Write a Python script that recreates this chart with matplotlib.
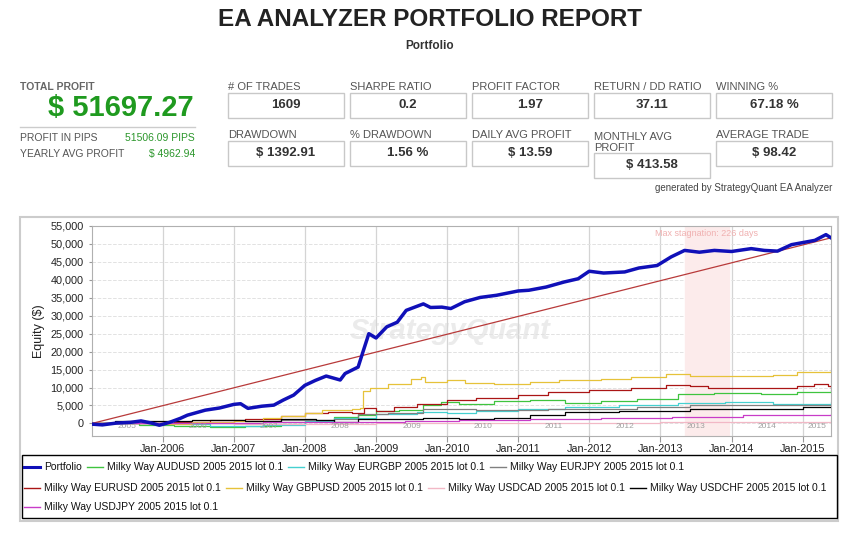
import matplotlib
matplotlib.use("Agg")
import matplotlib.pyplot as plt
import matplotlib.dates as mdates
import matplotlib.transforms as mtransforms
from matplotlib.lines import Line2D
from matplotlib.patches import Rectangle
from matplotlib.ticker import FuncFormatter
import pandas as pd

W, H = 860, 534
plt.rcParams["font.family"] = ["Liberation Sans", "DejaVu Sans"]

# ---- header statistics ----
total_profit = "$ 51697.27"
side_labels = ["PROFIT IN PIPS", "YEARLY AVG PROFIT"]
side_values = ["51506.09 PIPS", "$ 4962.94"]
stat_labels = [
    ["# OF TRADES", "SHARPE RATIO", "PROFIT FACTOR", "RETURN / DD RATIO", "WINNING %"],
    ["DRAWDOWN", "% DRAWDOWN", "DAILY AVG PROFIT", "MONTHLY AVG\nPROFIT", "AVERAGE TRADE"],
]
stat_values = [
    ["1609", "0.2", "1.97", "37.11", "67.18 %"],
    ["$ 1392.91", "1.56 %", "$ 13.59", "$ 413.58", "$ 98.42"],
]

# ---- equity curves ----
portfolio_dates = [
    "2005-01-03", "2005-02-25", "2005-05-08", "2005-07-20", "2005-09-12", "2005-11-05",
    "2005-12-15", "2006-02-05", "2006-04-01", "2006-05-08", "2006-08-08", "2006-10-20",
    "2007-01-01", "2007-02-05", "2007-03-15", "2007-05-25", "2007-07-26", "2007-09-12",
    "2007-11-05", "2008-01-01", "2008-02-25", "2008-04-20", "2008-07-01", "2008-07-26",
    "2008-10-01", "2008-10-28", "2008-11-25", "2009-01-01", "2009-02-25", "2009-04-20",
    "2009-06-05", "2009-09-01", "2009-10-08", "2009-12-05", "2010-01-20", "2010-04-01",
    "2010-06-20", "2010-09-12", "2011-01-01", "2011-02-25", "2011-05-25", "2011-08-25",
    "2011-11-05", "2012-01-01", "2012-03-15", "2012-07-01", "2012-09-12", "2012-12-15",
    "2013-02-25", "2013-05-05", "2013-07-20", "2013-10-05", "2014-01-01", "2014-04-12",
    "2014-06-18", "2014-08-25", "2014-11-05", "2015-03-05", "2015-05-01", "2015-05-27",
]
portfolio_values = [
    -200, -400, 100, 300, 700, 100,
    -500, 300, 1400, 2300, 3700, 4300,
    5300, 5500, 4200, 4800, 5100, 6500,
    7900, 10600, 12000, 13200, 12100, 13900,
    15700, 20300, 25000, 23800, 26900, 28200,
    31500, 33300, 32300, 32400, 32000, 33900,
    35100, 35700, 36900, 37100, 38000, 39400,
    40300, 42400, 41900, 42200, 43300, 44000,
    46400, 48200, 47700, 48200, 47900, 48700,
    48200, 48000, 49800, 51000, 52600, 51700,
]

audusd_dates = ["2005-01-03", "2005-09-01", "2006-03-01", "2006-09-01", "2007-03-01", "2007-09-01",
                "2008-01-01", "2008-06-01", "2008-10-01", "2009-01-01", "2009-05-01", "2009-09-01",
                "2009-12-01", "2010-03-01", "2010-09-01", "2011-03-01", "2011-09-01", "2012-03-01",
                "2012-09-01", "2013-04-01", "2013-10-01", "2014-06-01", "2014-12-01", "2015-05-27"]
audusd_values = [0, -300, -700, -900, -700, -200, 700, 1800, 2300, 3400, 3800, 5000,
                 6000, 5500, 6200, 6500, 5600, 6300, 6900, 8300, 8500, 8300, 8800, 9300]

eurgbp_dates = ["2005-01-03", "2006-01-01", "2006-09-01", "2007-06-01", "2008-01-01", "2008-06-01",
                "2009-01-01", "2009-08-01", "2010-01-01", "2010-06-01", "2011-01-01", "2011-09-01",
                "2012-06-01", "2013-04-01", "2013-12-01", "2014-08-01", "2015-05-27"]
eurgbp_values = [0, -200, -600, -500, 600, 1500, 2500, 3300, 2800, 3400, 4100, 4500,
                 5100, 5700, 6000, 5500, 6000]

eurjpy_dates = ["2005-01-03", "2006-01-01", "2007-01-01", "2007-09-01", "2008-06-01", "2008-10-01",
                "2009-03-01", "2009-09-01", "2010-06-01", "2011-06-01", "2012-09-01", "2013-06-01",
                "2014-06-01", "2015-05-27"]
eurjpy_values = [0, 200, 600, 900, 1200, 2500, 3000, 3900, 3700, 3900, 4600, 5000, 5000, 4800]

eurusd_dates = ["2005-01-03", "2005-10-01", "2006-03-01", "2006-09-01", "2007-03-01", "2007-09-01",
                "2008-01-01", "2008-05-01", "2008-09-01", "2008-11-01", "2009-01-01", "2009-04-01",
                "2009-08-01", "2010-01-01", "2010-06-01", "2011-01-01", "2011-06-01", "2012-01-01",
                "2012-08-01", "2013-02-01", "2013-06-01", "2013-09-01", "2014-06-01", "2014-12-01",
                "2015-03-01", "2015-05-10", "2015-05-27"]
eurusd_values = [0, 200, 500, 900, 1200, 2000, 2900, 3100, 3000, 4200, 3600, 4500,
                 5500, 6500, 7200, 7900, 8700, 9300, 10000, 10700, 10300, 9800, 10000, 10300,
                 10900, 10300, 10000]

gbpusd_dates = ["2005-01-03", "2005-06-01", "2006-01-01", "2006-06-01", "2007-01-01", "2007-06-01",
                "2007-09-01", "2008-01-01", "2008-04-01", "2008-09-01", "2008-10-10", "2008-10-25",
                "2008-12-01", "2009-03-01", "2009-07-01", "2009-08-20", "2009-09-10", "2010-01-01",
                "2010-04-01", "2010-09-01", "2011-03-01", "2011-08-01", "2012-03-01", "2012-08-01",
                "2013-02-01", "2013-06-01", "2014-03-01", "2014-08-01", "2014-12-01", "2015-05-27"]
gbpusd_values = [0, 100, -100, 300, 700, 1500, 2200, 3000, 3700, 4000, 4300, 9000,
                 10000, 11000, 12500, 12900, 11500, 12000, 11200, 11000, 11500, 12200, 12500, 13000,
                 13700, 13300, 13300, 13500, 14300, 15000]

usdcad_dates = ["2005-01-03", "2007-01-01", "2009-01-01", "2011-01-01", "2013-01-01", "2015-05-27"]
usdcad_values = [0, -200, 0, 200, 400, 1000]

usdchf_dates = ["2005-01-03", "2005-05-01", "2006-06-01", "2007-03-01", "2007-09-01", "2008-03-01",
                "2008-06-01", "2008-10-01", "2009-03-01", "2009-09-01", "2010-03-01", "2010-09-01",
                "2011-03-01", "2011-09-01", "2012-06-01", "2013-06-01", "2014-06-01", "2015-01-01",
                "2015-05-27"]
usdchf_values = [0, 700, 900, 800, 1200, 1000, 500, 1200, 1300, 1500, 1300, 1500,
                 2300, 3200, 3400, 3900, 4100, 4500, 4600]

usdjpy_dates = ["2005-01-03", "2006-01-01", "2007-06-01", "2008-03-01", "2009-06-01", "2010-03-01",
                "2011-03-01", "2012-03-01", "2013-03-01", "2014-03-01", "2015-05-27"]
usdjpy_values = [0, 100, 300, 400, 700, 900, 1100, 1500, 1900, 2300, 2600]

strategies = [
    ("Milky Way AUDUSD 2005 2015 lot 0.1", audusd_dates, audusd_values, "#3fc43f"),
    ("Milky Way EURGBP 2005 2015 lot 0.1", eurgbp_dates, eurgbp_values, "#45d0d0"),
    ("Milky Way EURJPY 2005 2015 lot 0.1", eurjpy_dates, eurjpy_values, "#808080"),
    ("Milky Way EURUSD 2005 2015 lot 0.1", eurusd_dates, eurusd_values, "#aa1515"),
    ("Milky Way GBPUSD 2005 2015 lot 0.1", gbpusd_dates, gbpusd_values, "#e6c23a"),
    ("Milky Way USDCAD 2005 2015 lot 0.1", usdcad_dates, usdcad_values, "#f2b8c6"),
    ("Milky Way USDCHF 2005 2015 lot 0.1", usdchf_dates, usdchf_values, "#000000"),
    ("Milky Way USDJPY 2005 2015 lot 0.1", usdjpy_dates, usdjpy_values, "#c83cc8"),
]

stagnation_start, stagnation_end = "2013-05-05", "2013-12-17"
stagnation_text = "Max stagnation: 226 days"


def fx(x):
    return x / W


def fy(y):
    return 1 - y / H


def main():
    fig = plt.figure(figsize=(W / 100, H / 100), dpi=100)

    # ---- header ----
    fig.text(0.5, fy(19.5), "EA ANALYZER PORTFOLIO REPORT", ha="center", va="center",
             fontsize=17.5, weight="bold", color="#222222")
    fig.text(0.5, fy(46), "Portfolio", ha="center", va="center", fontsize=8.5,
             weight="bold", color="#333333")

    fig.text(fx(20), fy(87), "TOTAL PROFIT", va="center", fontsize=7.5, weight="bold",
             color="#666666")
    fig.text(fx(194), fy(108.5), total_profit, ha="right", va="center", fontsize=21,
             weight="bold", color="#1f9a1f")
    fig.add_artist(Line2D([fx(20), fx(195)], [fy(127), fy(127)], transform=fig.transFigure,
                          color="#cccccc", lw=1))
    for i, (lab, val) in enumerate(zip(side_labels, side_values)):
        y = fy(138 + 16 * i)
        fig.text(fx(20), y, lab, va="center", fontsize=7.5, color="#555555")
        fig.text(fx(195), y, val, ha="right", va="center", fontsize=7.5, color="#2b962b")

    for r, (labels, values) in enumerate(zip(stat_labels, stat_values)):
        for c, (lab, val) in enumerate(zip(labels, values)):
            x0 = 228 + 122 * c
            lab_y = 87 + 48 * r
            box_top = 93 + 48 * r
            if "\n" in lab:
                box_top += 12
                fig.text(fx(x0), fy(lab_y - 3), lab, va="top", fontsize=8, color="#555555",
                         linespacing=1.15)
            else:
                fig.text(fx(x0), fy(lab_y), lab, va="center", fontsize=8, color="#555555")
            fig.add_artist(Rectangle((fx(x0), fy(box_top + 25)), fx(116), 25 / H,
                                     transform=fig.transFigure, fill=False,
                                     edgecolor="#c8c8c8", lw=1))
            fig.text(fx(x0 + 58), fy(box_top + 12.5), val, ha="center", va="center",
                     fontsize=9.5, weight="bold", color="#333333")

    fig.text(fx(832), fy(188), "generated by StrategyQuant EA Analyzer", ha="right",
             va="center", fontsize=7, color="#444444")

    # ---- chart frame ----
    fig.add_artist(Rectangle((fx(20), fy(521)), fx(818), 304 / H, transform=fig.transFigure,
                             fill=False, edgecolor="#cccccc", lw=1.5))

    ax = fig.add_axes([fx(92), fy(436), fx(831 - 92), (436 - 226) / H])

    pdates = pd.to_datetime(portfolio_dates)
    ax.plot(pdates, portfolio_values, color="#1010b8", lw=2.5, zorder=5)
    ax.plot([pdates[0], pdates[-1]], [0, portfolio_values[-1]], color="#b83a3a", lw=0.9,
            zorder=4)
    for name, d, v, color in strategies:
        ax.plot(pd.to_datetime(d), v, color=color, lw=0.9, drawstyle="steps-post", zorder=3)

    ax.axvspan(pd.Timestamp(stagnation_start), pd.Timestamp(stagnation_end),
               color="#fcebeb", zorder=1)
    mid = pd.Timestamp(stagnation_start) + (pd.Timestamp(stagnation_end) - pd.Timestamp(stagnation_start)) / 2
    ax.text(mid, 0.962, stagnation_text, transform=ax.get_xaxis_transform(), ha="center",
            va="center", fontsize=6.5, color="#f0b0b0")

    ax.text(0.485, 0.5, "StrategyQuant", transform=ax.transAxes, ha="center", va="center",
            fontsize=21, weight="bold", style="italic", color="#ebebeb", zorder=0)

    ax.set_xlim(pdates[0], pdates[-1])
    ax.set_ylim(-3500, 55000)
    ax.set_yticks(range(0, 55001, 5000))
    ax.yaxis.set_major_formatter(FuncFormatter(lambda v, p: f"{int(v):,}"))
    ax.xaxis.set_major_locator(mdates.YearLocator())
    ax.xaxis.set_major_formatter(mdates.DateFormatter("Jan-%Y"))
    ax.tick_params(axis="both", labelsize=7.8, colors="#222222")
    ax.tick_params(axis="x", length=4, color="#999999", pad=2)
    ax.tick_params(axis="y", length=2, color="#999999", pad=4)
    ax.set_ylabel("Equity ($)", fontsize=9, color="#222222", labelpad=4)

    ax.grid(axis="x", color="#d4d4d4", lw=0.9)
    ax.grid(axis="y", color="#e2e2e2", lw=0.7, ls="--")
    ax.set_axisbelow(True)
    for s in ax.spines.values():
        s.set_color("#b0b0b0")
        s.set_linewidth(0.8)

    trans = mtransforms.blended_transform_factory(ax.transData, ax.transAxes)
    x0, x1 = pdates[0], pdates[-1]
    for year in range(2005, 2016):
        a = max(pd.Timestamp(f"{year}-01-01"), x0)
        b = min(pd.Timestamp(f"{year + 1}-01-01"), x1)
        ax.text(a + (b - a) / 2, 0.045, str(year), transform=trans, ha="center",
                va="center", fontsize=6, color="#a0a0a0")

    # ---- legend (flow layout) ----
    fig.add_artist(Rectangle((fx(22), fy(518)), fx(815), 63 / H, transform=fig.transFigure,
                             fill=False, edgecolor="#000000", lw=1))
    entries = [("Portfolio", "#1010b8", 2.2)] + [(n, c, 1.0) for n, _, _, c in strategies]
    rows_y = [467, 488, 507]
    renderer = fig.canvas.get_renderer()
    x, row = 24, 0
    for name, color, lw in entries:
        t = fig.text(0, 0, name, fontsize=7.5, va="center", color="#111111")
        w = t.get_window_extent(renderer).width
        if x + 20 + w > 834 and x > 24:
            row += 1
            x = 24
        y = fy(rows_y[row])
        fig.add_artist(Line2D([fx(x), fx(x + 16)], [y, y], transform=fig.transFigure,
                              color=color, lw=lw))
        t.set_position((fx(x + 20), y))
        x += 20 + w + 5

    fig.savefig("out.png", dpi=100)


if __name__ == "__main__":
    main()
